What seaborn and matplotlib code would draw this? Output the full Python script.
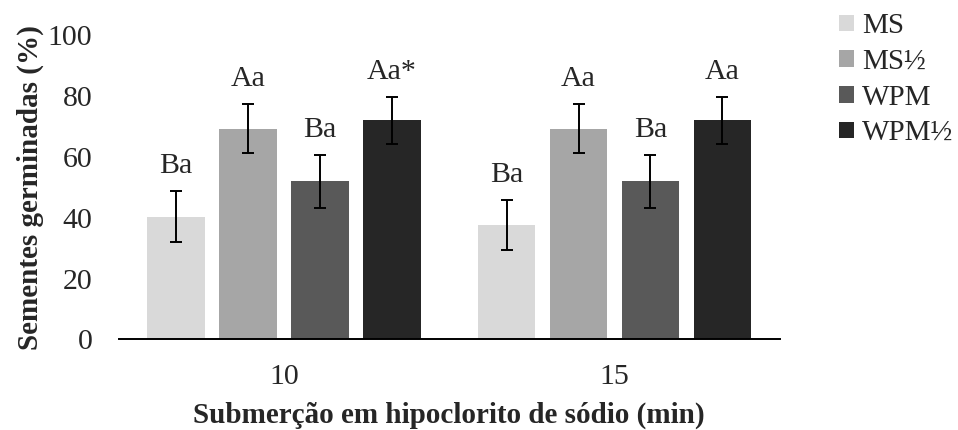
import matplotlib
matplotlib.use("Agg")
import matplotlib.pyplot as plt
import seaborn as sns
import pandas as pd

# Germination data by immersion time and culture medium
tempos = ["10", "15"]
meios = ["MS", "MS½", "WPM", "WPM½"]
ms = [40.3, 37.6]
ms_meio = [69.2, 69.2]
wpm = [51.9, 51.9]
wpm_meio = [72.0, 72.0]
erro_ms = [8.4, 8.3]
erro_ms_meio = [8.1, 8.1]
erro_wpm = [8.7, 8.7]
erro_wpm_meio = [7.8, 7.8]
letras_ms = ["Ba", "Ba"]
letras_ms_meio = ["Aa", "Aa"]
letras_wpm = ["Ba", "Ba"]
letras_wpm_meio = ["Aa*", "Aa"]
cores = ["#d9d9d9", "#a6a6a6", "#595959", "#262626"]

valores = [ms, ms_meio, wpm, wpm_meio]
erros = [erro_ms, erro_ms_meio, erro_wpm, erro_wpm_meio]
letras = [letras_ms, letras_ms_meio, letras_wpm, letras_wpm_meio]

df = pd.DataFrame(
    [(t, m, valores[i][j]) for i, m in enumerate(meios) for j, t in enumerate(tempos)],
    columns=["tempo", "meio", "valor"],
)

sns.set_theme(style="white")
plt.rcParams["font.family"] = ["Liberation Serif", "DejaVu Serif"]
fs_tick = 21.5
fs_txt = 21

fig = plt.figure(figsize=(9.58, 4.30), dpi=100)
ax = fig.add_axes([0.124, 0.2105, 0.690, 0.708])

sns.barplot(data=df, x="tempo", y="valor", hue="meio", order=tempos,
            hue_order=meios, palette=cores, width=0.87, gap=0.2,
            errorbar=None, linewidth=0, ax=ax)

barras = list(ax.containers)
for i, cont in enumerate(barras):
    for j, bar in enumerate(cont.patches):
        xc = bar.get_x() + bar.get_width() / 2
        m = valores[i][j]
        e = erros[i][j]
        ax.errorbar(xc, m, yerr=e, fmt="none", ecolor="black",
                    elinewidth=1.4, capsize=4.5, capthick=1.4)
        ax.annotate(letras[i][j], (xc, m + e), xytext=(0, 8.5),
                    textcoords="offset points", ha="center", va="bottom",
                    fontsize=fs_tick)

ax.set_xlim(-0.5, 1.5)
ax.set_ylim(0, 100)
ax.set_yticks([0, 20, 40, 60, 80, 100])
ax.tick_params(axis="y", length=0, pad=19, labelsize=fs_tick)
ax.tick_params(axis="x", length=0, pad=18, labelsize=fs_tick)
for s in ["top", "right", "left"]:
    ax.spines[s].set_visible(False)
ax.spines["bottom"].set_color("black")
ax.spines["bottom"].set_linewidth(1.4)

ax.set_ylabel("Sementes germinadas (%)", fontsize=fs_txt, fontweight="bold")
ax.set_xlabel("Submerção em hipoclorito de sódio (min)", fontsize=fs_txt,
              fontweight="bold")
ax.yaxis.set_label_coords(-0.113, 0.5)
ax.xaxis.set_label_coords(0.5, -0.203)

handles, labels = ax.get_legend_handles_labels()
if ax.legend_ is not None:
    ax.legend_.remove()
fig.legend(handles, labels, loc="upper left", bbox_to_anchor=(0.859, 1.006),
           frameon=False, fontsize=fs_txt, handlelength=0.5, handleheight=0.5,
           handletextpad=0.3, labelspacing=0.33, borderaxespad=0.15)

fig.savefig("out.png", dpi=100)
